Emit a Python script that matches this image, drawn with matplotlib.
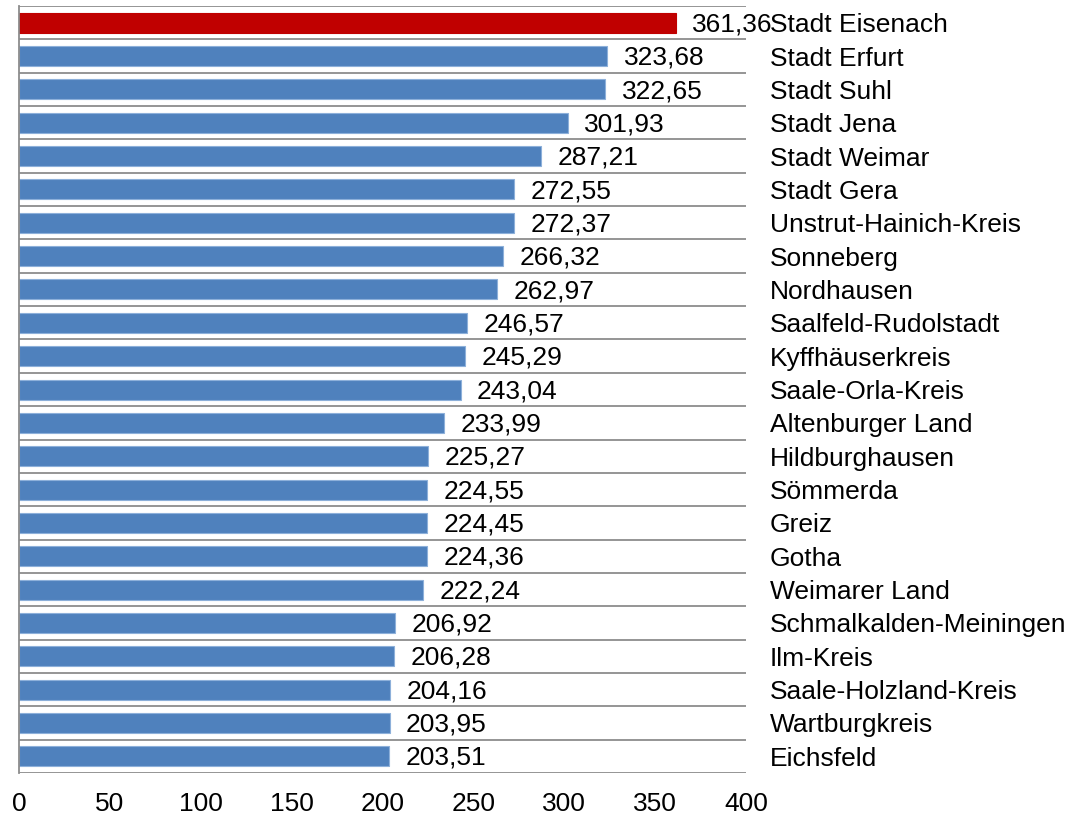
import matplotlib.pyplot as plt

plt.rcParams['font.family'] = ['Liberation Sans', 'DejaVu Sans']

regions = [
    "Stadt Eisenach", "Stadt Erfurt", "Stadt Suhl", "Stadt Jena", "Stadt Weimar",
    "Stadt Gera", "Unstrut-Hainich-Kreis", "Sonneberg", "Nordhausen",
    "Saalfeld-Rudolstadt", "Kyffhäuserkreis", "Saale-Orla-Kreis",
    "Altenburger Land", "Hildburghausen", "Sömmerda", "Greiz", "Gotha",
    "Weimarer Land", "Schmalkalden-Meiningen", "Ilm-Kreis",
    "Saale-Holzland-Kreis", "Wartburgkreis", "Eichsfeld",
]
values = [
    361.36, 323.68, 322.65, 301.93, 287.21, 272.55, 272.37, 266.32, 262.97,
    246.57, 245.29, 243.04, 233.99, 225.27, 224.55, 224.45, 224.36, 222.24,
    206.92, 206.28, 204.16, 203.95, 203.51,
]
xticks = [0, 50, 100, 150, 200, 250, 300, 350, 400]

fig = plt.figure(figsize=(10.7, 8.16), dpi=100)
ax = fig.add_axes([0.0178, 0.0527, 0.6794, 0.9399])

pos = list(range(len(regions)))
colors = ['#C00000'] + ['#4F81BD'] * (len(regions) - 1)
edges = ['#C00000'] + ['#8DB0DA'] * (len(regions) - 1)
ax.barh(pos, values, height=0.6, color=colors, edgecolor=edges, linewidth=0.8, zorder=2)

# separator lines between categories
for i in range(len(regions) + 1):
    ax.axhline(i - 0.5, color='#8c8c8c', linewidth=1.3, zorder=1)

for p, v in zip(pos, values):
    ax.text(v + 9, p + 0.05, f"{v:.2f}".replace('.', ','), ha='left', va='center',
            fontsize=19, zorder=3)

ax.set_xlim(0, 400)
ax.set_ylim(len(regions) - 0.5, -0.5)
ax.set_xticks(xticks)
ax.set_xticklabels([str(t) for t in xticks], fontsize=19)
ax.set_yticks(pos)
ax.set_yticklabels(regions, fontsize=19, ha='left')
ax.yaxis.tick_right()
ax.tick_params(axis='y', length=0, pad=17)
ax.tick_params(axis='x', length=0, pad=14)

for s in ['top', 'right', 'bottom']:
    ax.spines[s].set_visible(False)
ax.spines['left'].set_color('#8c8c8c')
ax.spines['left'].set_linewidth(1.3)

fig.savefig('out.png', dpi=100, facecolor='white')
